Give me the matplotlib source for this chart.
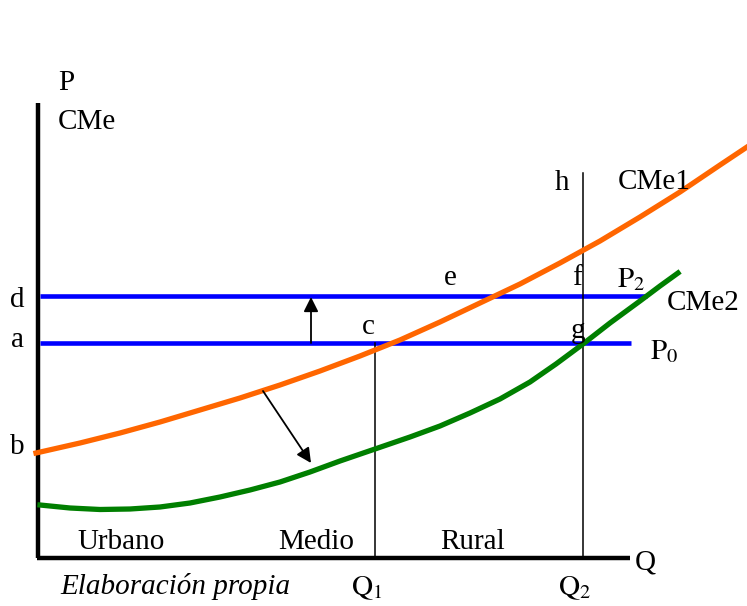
### Cost curves diagram: CMe1 shifts down to CMe2 ###
import numpy as np
import matplotlib.pyplot as plt

plt.rcParams['font.family'] = ['Liberation Serif', 'DejaVu Serif']
plt.rcParams['mathtext.fontset'] = 'stix'

### DATA (pixel-like units, y grows downwards) ###
cme1_x = [36, 80, 120, 160, 200, 240, 280, 320, 360, 400, 440, 480, 520, 560, 600, 640, 680, 720, 747]
cme1_y = [453, 443, 433, 422, 410, 398, 385, 371, 356, 340, 322, 303, 284, 263, 241, 217, 192, 165, 147]

cme2_x = [40, 70, 100, 130, 160, 190, 220, 250, 280, 310, 340, 375, 410, 440, 470, 500, 530, 556,
          583, 610, 640, 660, 678]
cme2_y = [505, 508, 509.5, 509, 507, 503, 497, 490, 482, 472, 461, 449, 437, 426, 413, 399, 382, 364,
          344, 323, 301, 286, 273]

price_levels = {'d': 296, 'a': 343}
price_ends = {'d': 647, 'a': 631}
q1 = 375
q2 = 583
h_top = 173
axis_origin = (38, 558)
axis_top = 103
axis_right = 630

### FIGURE ###
fig = plt.figure(figsize=(7.47, 6.06), dpi=100)
ax = fig.add_axes([0, 0, 1, 1])
ax.set_xlim(0, 747)
ax.set_ylim(606, 0)
ax.axis('off')

fs = 21

# axes
ax.plot([axis_origin[0], axis_origin[0]], [axis_top, axis_origin[1]], color='black', lw=3.2,
        solid_capstyle='butt')
ax.plot([axis_origin[0] - 1.5, axis_right], [axis_origin[1], axis_origin[1]], color='black', lw=3.2,
        solid_capstyle='butt')

# price lines
for k in ['d', 'a']:
    ax.plot([40, price_ends[k]], [price_levels[k], price_levels[k]], color='#0000FF', lw=3.3,
            solid_capstyle='butt')

# vertical lines at Q1 and Q2
ax.plot([q1, q1], [price_levels['a'], axis_origin[1]], color='black', lw=1.1)
ax.plot([q2, q2], [h_top, axis_origin[1]], color='black', lw=1.1)

# cost curves
ax.plot(cme1_x, cme1_y, color='#FF6600', lw=3.8, solid_joinstyle='round')
ax.plot(cme2_x, cme2_y, color='#007F00', lw=3.8, solid_joinstyle='round')

# arrows
ax.annotate('', xy=(311, price_levels['d'] + 1), xytext=(311, price_levels['a']),
            arrowprops=dict(arrowstyle='-|>', color='black', lw=1.3, mutation_scale=22,
                            shrinkA=0, shrinkB=0))
ax.annotate('', xy=(311, 463), xytext=(263, 391),
            arrowprops=dict(arrowstyle='-|>', color='black', lw=1.3, mutation_scale=22,
                            shrinkA=0, shrinkB=0))

### LABELS ###
ax.text(58, 83, 'P', fontsize=fs, ha='left', va='center')
ax.text(58, 122, 'CMe', fontsize=fs, ha='left', va='center')
ax.text(17, 300, 'd', fontsize=fs, ha='center', va='center')
ax.text(17, 340, 'a', fontsize=fs, ha='center', va='center')
ax.text(17, 447, 'b', fontsize=fs, ha='center', va='center')
ax.text(450, 278, 'e', fontsize=fs, ha='center', va='center')
ax.text(368, 327, 'c', fontsize=fs, ha='center', va='center')
ax.text(577, 278, 'f', fontsize=fs, ha='center', va='center')
ax.text(578, 331, 'g', fontsize=fs, ha='center', va='center')
ax.text(562, 183, 'h', fontsize=fs, ha='center', va='center')
ax.text(618, 182, 'CMe1', fontsize=fs, ha='left', va='center')
ax.text(667, 303, 'CMe2', fontsize=fs, ha='left', va='center')
ax.text(617, 280, r'$\mathrm{P}_2$', fontsize=fs, ha='left', va='center')
ax.text(650, 352, r'$\mathrm{P}_0$', fontsize=fs, ha='left', va='center')
ax.text(121, 542, 'Urbano', fontsize=fs, ha='center', va='center')
ax.text(316, 542, 'Medio', fontsize=fs, ha='center', va='center')
ax.text(473, 542, 'Rural', fontsize=fs, ha='center', va='center')
ax.text(635, 563, 'Q', fontsize=fs, ha='left', va='center')
ax.text(q1 - 8, 588, r'$\mathrm{Q}_1$', fontsize=fs, ha='center', va='center')
ax.text(q2 - 8, 588, r'$\mathrm{Q}_2$', fontsize=fs, ha='center', va='center')
ax.text(60, 587, 'Elaboración propia', fontsize=fs, style='italic', ha='left', va='center')

fig.savefig('out.png', dpi=100)
